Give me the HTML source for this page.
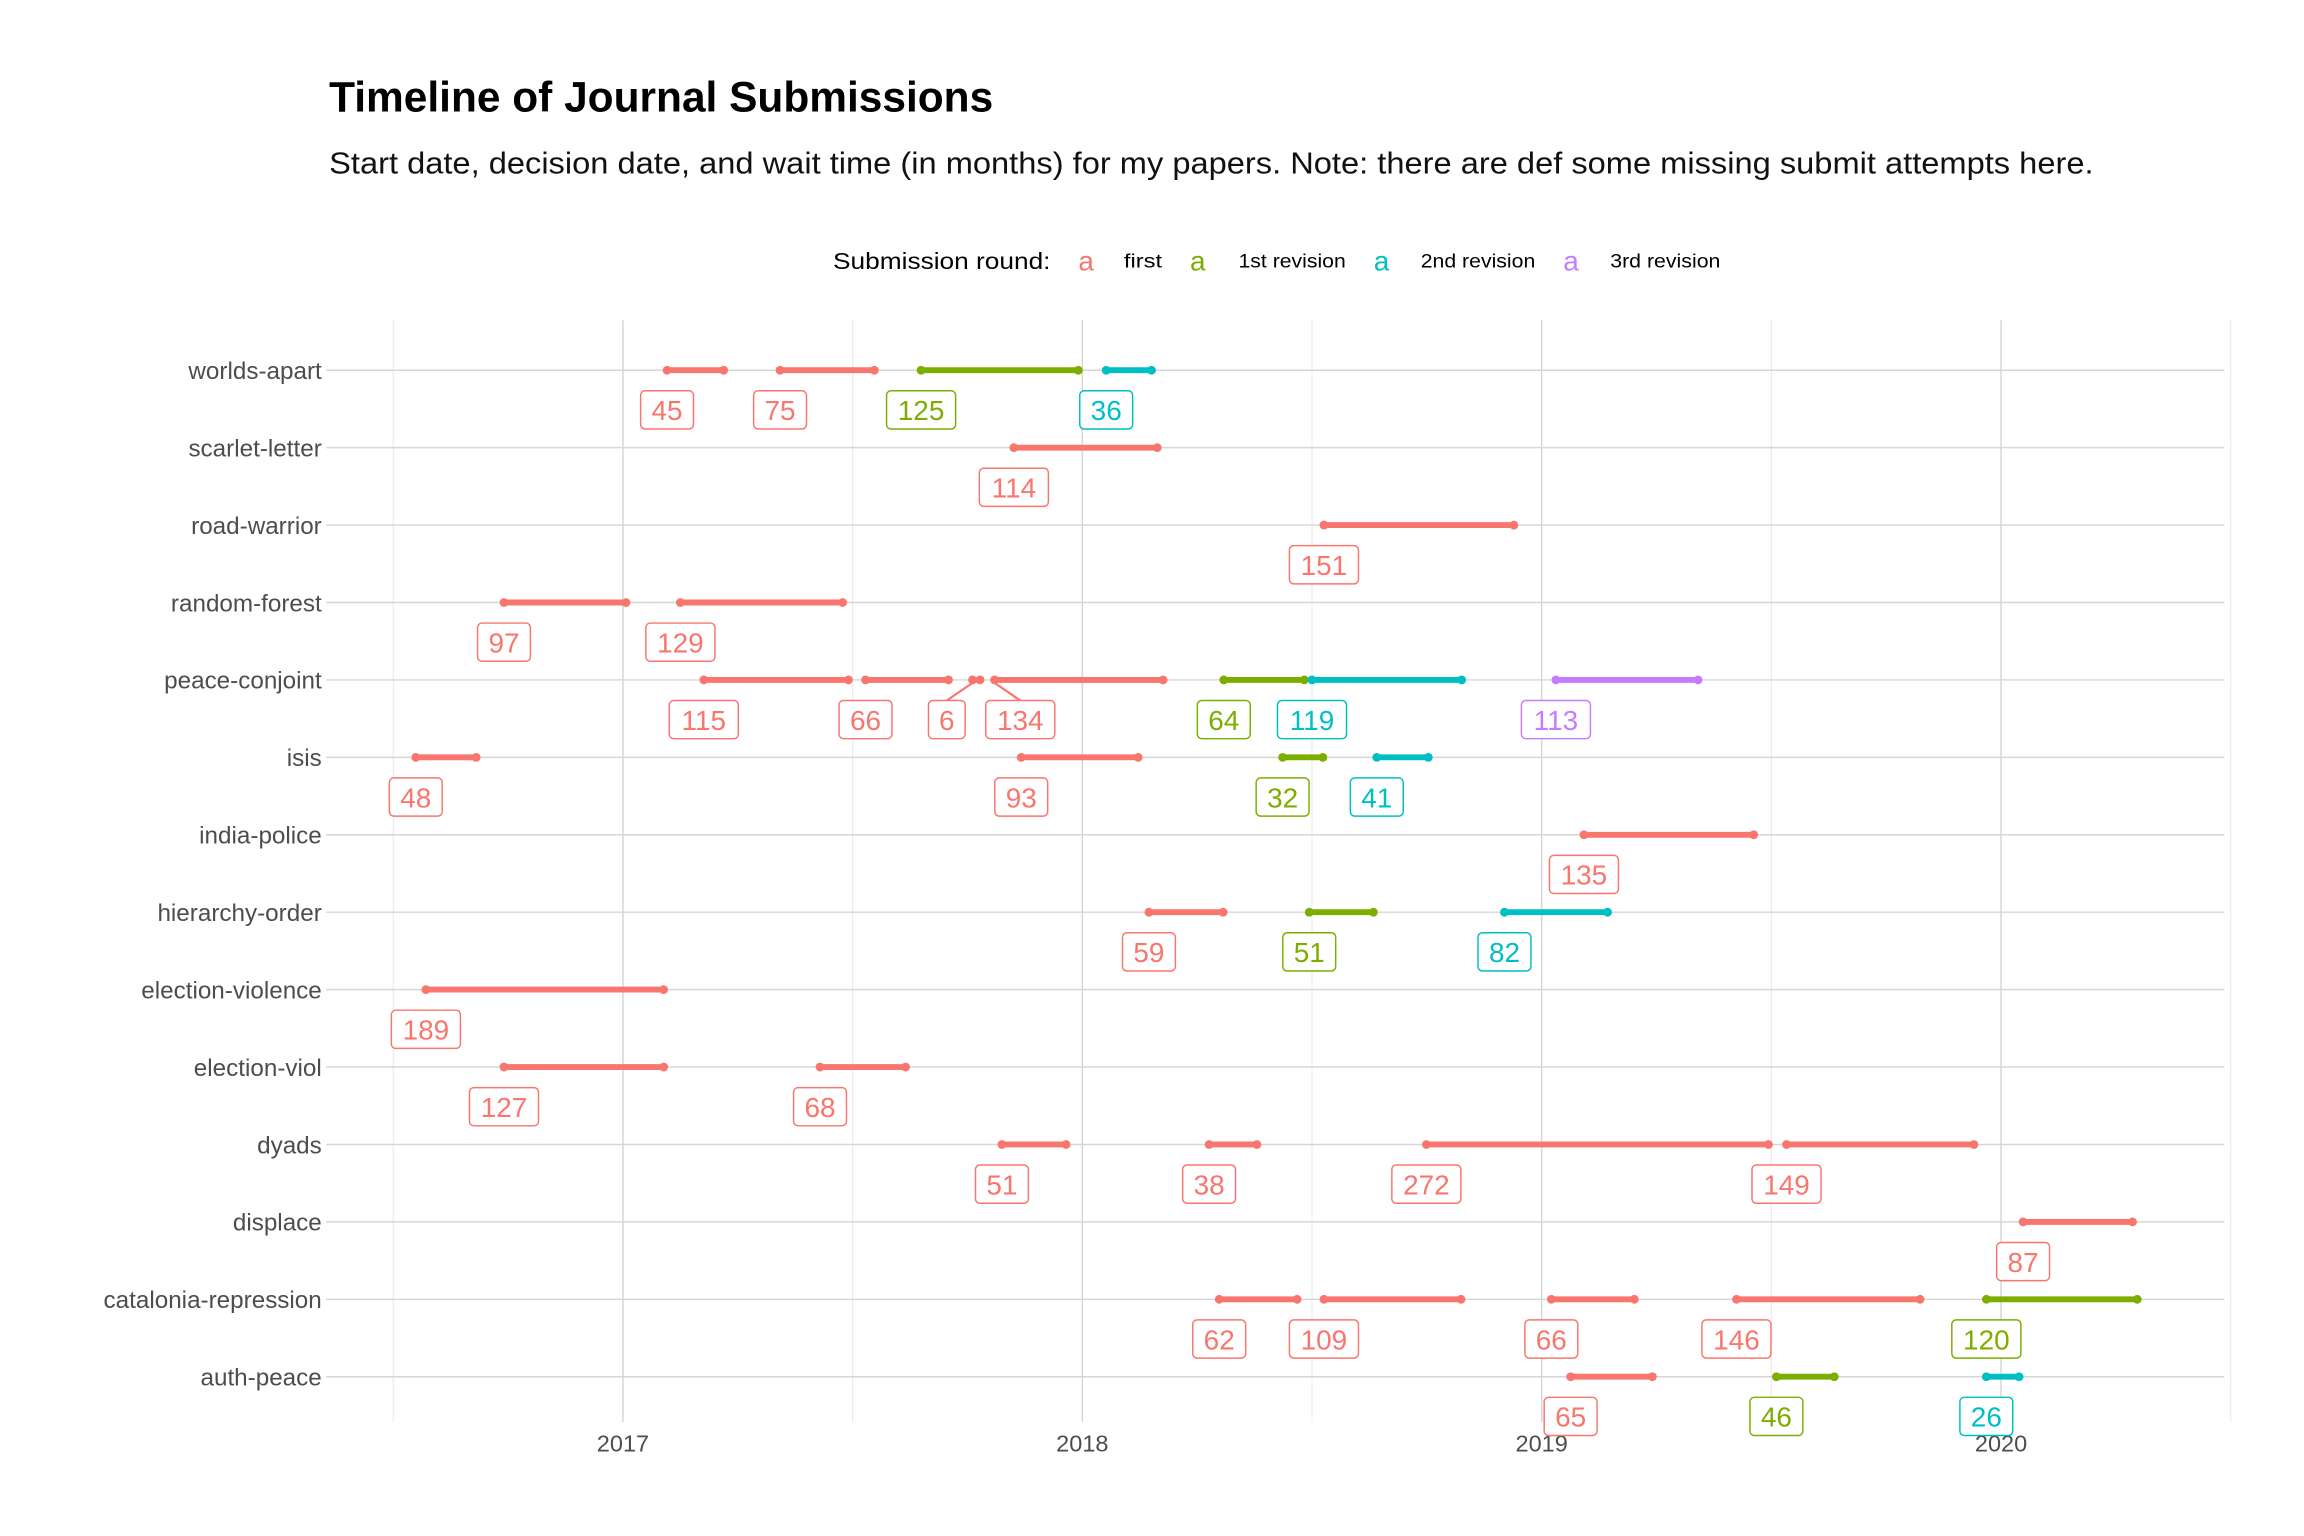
<!DOCTYPE html>
<html><head><meta charset="utf-8"><style>
html,body{margin:0;padding:0;background:#fff;}
svg{display:block;font-family:"Liberation Sans",sans-serif;}
</style></head><body>
<svg id="chart" width="2304" height="1536" viewBox="0 0 1568.2 1045.5" xmlns="http://www.w3.org/2000/svg">
<text x="224" y="76" font-size="29" font-weight="bold" fill="#000" textLength="452" lengthAdjust="spacingAndGlyphs">Timeline of Journal Submissions</text>
<text x="224" y="118" font-size="21" fill="#111" textLength="1201" lengthAdjust="spacingAndGlyphs">Start date, decision date, and wait time (in months) for my papers. Note: there are def some missing submit attempts here.</text>
<g>
<text x="567" y="183" font-size="16" fill="#000" textLength="148" lengthAdjust="spacingAndGlyphs">Submission round:</text>
<g><text x="734" y="184" font-size="19" fill="#F8766D">a</text><text x="765" y="182" font-size="13" fill="#000" textLength="26" lengthAdjust="spacingAndGlyphs">first</text></g>
<g><text x="810" y="184" font-size="19" fill="#7CAE00">a</text><text x="843" y="182" font-size="13" fill="#000" textLength="73" lengthAdjust="spacingAndGlyphs">1st revision</text></g>
<g><text x="935" y="184" font-size="19" fill="#00BFC4">a</text><text x="967" y="182" font-size="13" fill="#000" textLength="78" lengthAdjust="spacingAndGlyphs">2nd revision</text></g>
<g><text x="1064" y="184" font-size="19" fill="#C77CFF">a</text><text x="1096" y="182" font-size="13" fill="#000" textLength="75" lengthAdjust="spacingAndGlyphs">3rd revision</text></g>
</g>
<g id="grid"></g>
<g id="marks"></g>
<g id="labels"></g>
</svg>
<script>
const papers = ["worlds-apart","scarlet-letter","road-warrior","random-forest","peace-conjoint","isis","india-police","hierarchy-order","election-violence","election-viol","dyads","displace","catalonia-repression","auth-peace"];
const rounds = ["first","1st revision","2nd revision","3rd revision"];
const roundColors = ["#F8766D","#7CAE00","#00BFC4","#C77CFF"];
const xTicks = [2017,2018,2019,2020];
const xTickLabels = ["2017","2018","2019","2020"];
// segments: paper, round index, start (decimal year), wait (days)
const segPaper = ["worlds-apart","worlds-apart","worlds-apart","worlds-apart","scarlet-letter","road-warrior","random-forest","random-forest","peace-conjoint","peace-conjoint","peace-conjoint","peace-conjoint","peace-conjoint","peace-conjoint","peace-conjoint","isis","isis","isis","isis","india-police","hierarchy-order","hierarchy-order","hierarchy-order","election-violence","election-viol","election-viol","dyads","dyads","dyads","dyads","displace","catalonia-repression","catalonia-repression","catalonia-repression","catalonia-repression","catalonia-repression","auth-peace","auth-peace","auth-peace"];
const segRound = [0,0,1,2,0,0,0,0,0,0,0,0,1,2,3,0,0,1,2,0,0,1,2,0,0,0,0,0,0,0,0,0,0,0,0,1,0,1,2];
const segStart = [2017.096,2017.342,2017.649,2018.052,2017.851,2018.526,2016.741,2017.125,2017.176,2017.528,2017.761,2017.809,2018.308,2018.500,2019.031,2016.549,2017.867,2018.436,2018.641,2019.092,2018.145,2018.494,2018.919,2016.571,2016.741,2017.429,2017.825,2018.276,2018.749,2019.533,2020.048,2018.298,2018.526,2019.021,2019.424,2019.968,2019.063,2019.511,2019.968];
const segDays = [45,75,125,36,114,151,97,129,115,66,6,134,64,119,113,48,93,32,41,135,59,51,82,189,127,68,51,38,272,149,87,62,109,66,146,120,65,46,26];

const NS="http://www.w3.org/2000/svg";
const X0=222, X1=1514, Ytop=218, Ybot=968;
const xScale = y => 424 + (y-2017)*312.67;
const yScale = p => 252 + papers.indexOf(p)*52.7;
function mk(tag, attrs, parent){const e=document.createElementNS(NS,tag);for(const k in attrs)e.setAttribute(k,attrs[k]);parent.appendChild(e);return e;}
const grid=document.getElementById('grid'), marks=document.getElementById('marks'), labels=document.getElementById('labels');
for(let t=2016.5;t<=2020.5;t+=1){const l=mk('line',{x1:xScale(t),x2:xScale(t),y1:Ytop,y2:Ybot,stroke:'#ececec','stroke-width':0.8},grid);

}
xTicks.forEach((t,i)=>{const l=mk('line',{x1:xScale(t),x2:xScale(t),y1:Ytop,y2:Ybot,stroke:'#d6d6d6','stroke-width':1},grid);


const tx=mk('text',{x:xScale(t),y:988,'font-size':16,fill:'#4d4d4d','text-anchor':'middle'},grid);tx.textContent=xTickLabels[i];

});
papers.forEach(p=>{const y=yScale(p);const l=mk('line',{x1:X0,x2:X1,y1:y,y2:y,stroke:'#d6d6d6','stroke-width':1},grid);


const tx=mk('text',{x:219,y:y+6,'font-size':16.5,fill:'#4d4d4d','text-anchor':'end'},grid);tx.textContent=p;

});
const lab=[];
segPaper.forEach((p,i)=>{
  const c=roundColors[segRound[i]], y=yScale(p), xs=xScale(segStart[i]), xe=xScale(segStart[i]+segDays[i]/365.25);
  const g=mk('g',{},marks);
  
  
  mk('line',{x1:xs,x2:xe,y1:y,y2:y,stroke:c,'stroke-width':4},g);
  mk('circle',{cx:xs,cy:y,r:3,fill:c},g);
  mk('circle',{cx:xe,cy:y,r:3,fill:c},g);
  const w=String(segDays[i]).length*11+14;
  lab.push({p,i,x0:xs,x:xs,w,y,c});
});
papers.forEach(p=>{
  const row=lab.filter(l=>l.p===p).sort((a,b)=>a.x0-b.x0);
  for(let it=0;it<50;it++){for(let k=0;k<row.length-1;k++){const a=row[k],b=row[k+1];const need=(a.w+b.w)/2+14-(b.x-a.x);if(need>0){a.x-=need/2;b.x+=need/2;}}}
});
lab.forEach(l=>{
  const g=mk('g',{},labels);
  
  
  const cy=l.y+27;
  if(Math.abs(l.x-l.x0)>5){mk('line',{x1:l.x0,y1:l.y+2,x2:l.x,y2:cy-13,stroke:l.c,'stroke-width':1.5},g);}
  mk('rect',{x:l.x-l.w/2,y:cy-13,width:l.w,height:26,rx:3,fill:'#fff',stroke:l.c,'stroke-width':1},g);
  const t=mk('text',{x:l.x,y:cy+7,'font-size':19,fill:l.c,'text-anchor':'middle'},g);t.textContent=segDays[l.i];
});
</script>
</body></html>
